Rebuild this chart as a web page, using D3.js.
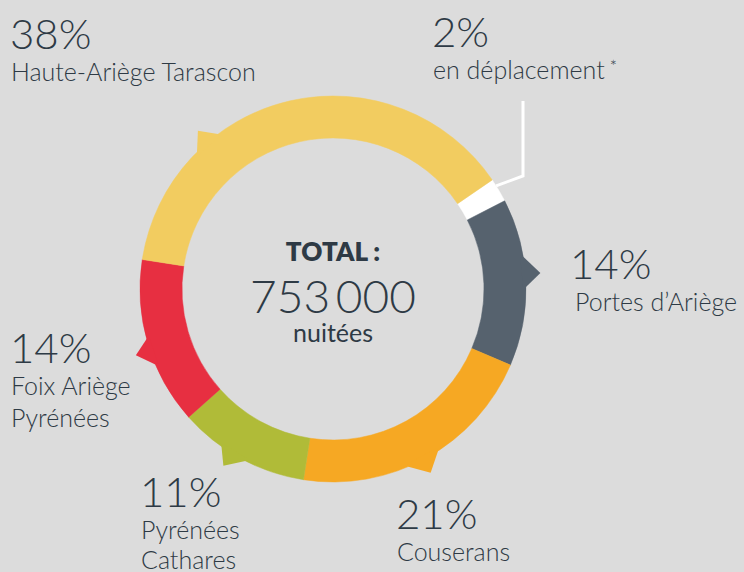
<!DOCTYPE html>
<html>
<head>
<meta charset="utf-8">
<script src="https://cdn.jsdelivr.net/npm/d3@7"></script>
<style>
  html, body { margin: 0; padding: 0; background: #dcdcdc; }
  svg { display: block; font-family: Lato, "Open Sans", sans-serif; }
</style>
</head>
<body>
<div id="chart"></div>
<script>
// data, in drawing order (clockwise, starting at the small white slice)
var categories = ["en déplacement", "Portes d’Ariège", "Couserans", "Pyrénées Cathares", "Foix Ariège Pyrénées", "Haute-Ariège Tarascon"];
var shares = [2, 14, 21, 11, 14, 38];
var labelLines = [["en déplacement"], ["Portes d’Ariège"], ["Couserans"], ["Pyrénées", "Cathares"], ["Foix Ariège", "Pyrénées"], ["Haute-Ariège Tarascon"]];
var totalLabel = "TOTAL :";
var totalValue = 753000;
var totalUnit = "nuitées";

function drawDonut(selection) {
    const width = 744, height = 572;
    const cx = 333, cy = 289;
    const outerR = 193, innerR = 151;
    const startDeg = 55.6;
    const textColor = "#2e3a45";

    const color = d3.scaleOrdinal()
        .domain(categories)
        .range(["#ffffff", "#56626e", "#f6a823", "#b0bb38", "#e72f41", "#f2cc60"]);

    // label anchors and pointer notches (degrees clockwise from top)
    const labelPos = [
        {x: 432, y: 47}, {x: 570, y: 279}, {x: 396, y: 529},
        {x: 140, y: 507}, {x: 10, y: 363}, {x: 10, y: 49}
    ];
    const notches = [
        null, [80.4, 89.4, 85.6], [147, 157, 152],
        [207, 215.3, 211.8], [247, 255, 251.4], [315.2, 323.4, 319.5]
    ];

    const rad = Math.PI / 180;
    function pt(deg, r) {
        return [cx + r * Math.sin(deg * rad), cy - r * Math.cos(deg * rad)];
    }

    d3.select(selection).html(null);

    var svg = d3.select(selection).append("svg")
        .attr("width", width)
        .attr("height", height)
        .attr("viewBox", "0 0 " + width + " " + height);

    svg.append("rect").attr("width", width).attr("height", height).attr("fill", "#dcdcdc");

    var arc = d3.arc()
        .outerRadius(outerR)
        .innerRadius(innerR);

    var pie = d3.pie()
        .sort(null)
        .value(function(d) { return d; })
        .startAngle(startDeg * rad)
        .endAngle((startDeg + 360) * rad);

    var arcs = pie(shares);

    var g = svg.append("g").attr("transform", "translate(" + cx + "," + cy + ")");

    g.selectAll("path.slice")
        .data(arcs)
        .enter().append("path")
        .attr("class", "slice")
        .attr("d", arc)
        .attr("fill", function(d, i) { return color(categories[i]); })
        .attr("stroke", function(d, i) { return color(categories[i]); })
        .attr("stroke-width", 0.5);

    // little notches pointing at the labels
    svg.selectAll("polygon.notch")
        .data(arcs.map(function(d, i) { return {i: i, n: notches[i]}; }).filter(function(d) { return d.n; }))
        .enter().append("polygon")
        .attr("class", "notch")
        .attr("points", function(d) {
            var n = d.n;
            return [pt(n[0], outerR - 3), pt(n[0], outerR), pt(n[2], outerR + 15), pt(n[1], outerR), pt(n[1], outerR - 3)]
                .map(function(p) { return p.join(","); }).join(" ");
        })
        .attr("fill", function(d) { return color(categories[d.i]); });

    // leader line for the white slice
    var wMid = (arcs[0].startAngle + arcs[0].endAngle) / 2 / rad;
    var p0 = pt(wMid - 1.5, outerR);
    svg.append("polyline")
        .attr("points", [p0, [523, 176], [523, 101]].map(function(p) { return p.join(","); }).join(" "))
        .attr("fill", "none")
        .attr("stroke", "#ffffff")
        .attr("stroke-width", 3);

    // labels
    var labels = svg.selectAll("g.label")
        .data(arcs)
        .enter().append("g")
        .attr("class", "label")
        .attr("transform", function(d, i) { return "translate(" + labelPos[i].x + "," + labelPos[i].y + ")"; });

    labels.append("text")
        .attr("fill", textColor)
        .style("font-size", "42px")
        .style("font-weight", 300)
        .text(function(d) { return d.data + "%"; });

    labels.each(function(d, i) {
        var sel = d3.select(this);
        labelLines[i].forEach(function(line, k) {
            var t = sel.append("text")
                .attr("x", i === 1 ? 5 : 1)
                .attr("y", 32 + k * (i === 3 ? 30 : 32))
                .attr("fill", textColor)
                .style("font-size", "25px")
                .style("font-weight", 300)
                .text(line);
            if (i === 0) {
                var w = t.node().getComputedTextLength();
                sel.append("text")
                    .attr("x", w + 6)
                    .attr("y", 26)
                    .attr("fill", textColor)
                    .style("font-size", "17px")
                    .style("font-weight", 300)
                    .text("*");
            }
        });
    });

    // centre total
    var fmt = d3.formatLocale({decimal: ",", thousands: "\u2009", grouping: [3], currency: ["", " €"]}).format(",d");
    var center = svg.append("g").attr("transform", "translate(" + cx + ",0)").attr("text-anchor", "middle").attr("fill", textColor);
    center.append("text").attr("y", 261).style("font-size", "26px").style("font-weight", 800).text(totalLabel);
    center.append("text").attr("y", 313).style("font-size", "46px").style("font-weight", 300).text(fmt(totalValue));
    center.append("text").attr("y", 342).style("font-size", "25px").style("font-weight", 400).text(totalUnit);
}

drawDonut("#chart");
</script>
</body>
</html>
